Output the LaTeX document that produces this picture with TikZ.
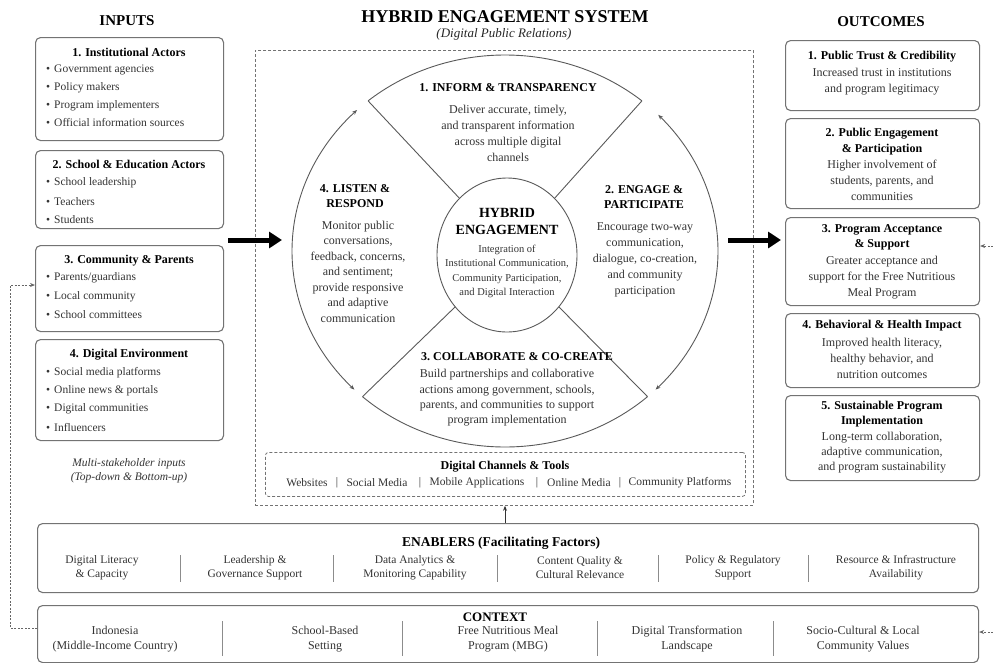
\documentclass[tikz,border=0pt]{standalone}
\usepackage{fontspec}
\setmainfont{Liberation Serif}
\usetikzlibrary{arrows.meta,shapes.geometric}
\begin{document}
\begin{tikzpicture}[x=1pt,y=-1pt,
 box/.style={draw=black!55, line width=1.1pt, rounded corners=5pt, anchor=north west, inner sep=0pt},
 ttl/.style={font=\fontsize{12}{15}\selectfont\bfseries, text=black, align=center, inner sep=0pt},
 body/.style={font=\fontsize{12}{16}\selectfont, text=black!80, align=center, inner sep=0pt},
 itm/.style={font=\fontsize{11.5}{14}\selectfont, text=black!80, anchor=west, inner sep=0pt},
 head/.style={font=\fontsize{15}{18}\selectfont\bfseries, text=black, inner sep=0pt},
 sepline/.style={draw=black!45, line width=0.8pt},
 ring/.style={draw=black!65, line width=0.9pt},
 fb/.style={draw=black!60, line width=0.9pt, dash pattern=on 2pt off 1.5pt},
 bigarrow/.style={line width=5pt, -{Triangle[length=13pt,width=16pt]}},
 tip/.style={-{Stealth[length=5pt,width=4pt]}},
 dtip/.style={{Stealth[length=5pt,width=4pt]}-{Stealth[length=5pt,width=4pt]}}
]
\useasboundingbox (0,0) rectangle (993,662);

% ---------------- headers ----------------
\node[head] (hin) at (127,21) {INPUTS};
\node[head] (hout) at (881,22) {OUTCOMES};
\node[font=\fontsize{18}{22}\selectfont\bfseries, inner sep=0pt] (hsys) at (505,17) {HYBRID ENGAGEMENT SYSTEM};
\node[font=\fontsize{13}{16}\selectfont\itshape, text=black!85, inner sep=0pt] (hsub) at (504,34) {(Digital Public Relations)};

% ---------------- inputs ----------------
\node[box, minimum width=188pt, minimum height=103pt] (in1) at (35,37) {};
\node[ttl] (in1t) at (129,52) {1. Institutional Actors};
\node[itm] (i11) at (46,70) {\textbullet\hspace{4pt}Government agencies};
\node[itm] (i12) at (46,88) {\textbullet\hspace{4pt}Policy makers};
\node[itm] (i13) at (46,106) {\textbullet\hspace{4pt}Program implementers};
\node[itm] (i14) at (46,123) {\textbullet\hspace{4pt}Official information sources};

\node[box, minimum width=188pt, minimum height=78pt] (in2) at (35,150) {};
\node[ttl] (in2t) at (129,164) {2. School \& Education Actors};
\node[itm] (i21) at (46,183) {\textbullet\hspace{4pt}School leadership};
\node[itm] (i22) at (46,202) {\textbullet\hspace{4pt}Teachers};
\node[itm] (i23) at (46,220) {\textbullet\hspace{4pt}Students};

\node[box, minimum width=188pt, minimum height=86pt] (in3) at (35,245) {};
\node[ttl] (in3t) at (129,261) {3. Community \& Parents};
\node[itm] (i31) at (46,278) {\textbullet\hspace{4pt}Parents/guardians};
\node[itm] (i32) at (46,297) {\textbullet\hspace{4pt}Local community};
\node[itm] (i33) at (46,315) {\textbullet\hspace{4pt}School committees};

\node[box, minimum width=188pt, minimum height=101pt] (in4) at (35,339) {};
\node[ttl] (in4t) at (129,355) {4. Digital Environment};
\node[itm] (i41) at (46,373) {\textbullet\hspace{4pt}Social media platforms};
\node[itm] (i42) at (46,391) {\textbullet\hspace{4pt}Online news \& portals};
\node[itm] (i43) at (46,409) {\textbullet\hspace{4pt}Digital communities};
\node[itm] (i44) at (46,427) {\textbullet\hspace{4pt}Influencers};

\node[font=\fontsize{11.5}{14}\selectfont\itshape, text=black!80, align=center, inner sep=0pt] (note) at (129,471)
  {Multi-stakeholder inputs\\(Top-down \& Bottom-up)};

% ---------------- central system ----------------
\node[draw=black!55, line width=0.8pt, dash pattern=on 3pt off 2pt, anchor=north west,
      minimum width=498pt, minimum height=455pt, inner sep=0pt] (sys) at (255,50) {};

\node[ellipse, draw=black!65, line width=0.9pt, minimum width=140pt, minimum height=154pt, inner sep=0pt] (hub) at (507,255) {};
\node[font=\fontsize{14}{17}\selectfont\bfseries, align=center, inner sep=0pt] (hubt) at (507,221) {HYBRID\\ENGAGEMENT};
\node[font=\fontsize{10.5}{14.3}\selectfont, text=black!80, align=center, inner sep=0pt] (hubb) at (507,271.5)
  {Integration of\\Institutional Communication,\\Community Participation,\\and Digital Interaction};

\coordinate (tl) at ({505+213*cos(230)},{251+196*sin(230)});
\coordinate (tr) at ({505+213*cos(310)},{251+196*sin(310)});
\coordinate (bl) at ({505+213*cos(132)},{251+196*sin(132)});
\coordinate (br) at ({505+213*cos(48)},{251+196*sin(48)});
\draw[ring] plot[domain=230:310, samples=60, smooth, variable=\t] ({505+213*cos(\t)},{251+196*sin(\t)});
\draw[ring] plot[domain=48:132, samples=60, smooth, variable=\t] ({505+213*cos(\t)},{251+196*sin(\t)});
\draw[ring] (tl) -- (hub.130);
\draw[ring] (tr) -- (hub.50);
\draw[ring] (bl) -- (hub.225);
\draw[ring] (br) -- (hub.315);
\draw[ring, dtip] plot[domain=135:226, samples=60, smooth, variable=\t] ({505+213*cos(\t)},{251+196*sin(\t)});
\draw[ring, dtip] plot[domain=-44:45, samples=60, smooth, variable=\t] ({505+213*cos(\t)},{251+196*sin(\t)});

\node[ttl] (s1t) at (508,88) {1. INFORM \& TRANSPARENCY};
\node[body] (s1b) at (508,133) {Deliver accurate, timely,\\and transparent information\\across multiple digital\\channels};

\node[ttl] (s2t) at (644,197) {2. ENGAGE \&\\PARTICIPATE};
\node[body] (s2b) at (645,260) {Encourage two-way\\communication,\\dialogue, co-creation,\\and community\\participation};

\node[ttl] (s3t) at (517,357) {3.\ COLLABORATE \& CO-CREATE};
\node[body, font=\fontsize{12}{15.3}\selectfont] (s3b) at (507,398) {Build partnerships and collaborative\\actions among government, schools,\\parents, and communities to support\\program implementation};

\node[ttl] (s4t) at (355,196) {4. LISTEN \&\\RESPOND};
\node[body, font=\fontsize{12}{15.5}\selectfont] (s4b) at (358,271.5) {Monitor public\\conversations,\\feedback, concerns,\\and sentiment;\\provide responsive\\and adaptive\\communication};

% channels
\node[draw=black!55, line width=0.8pt, dash pattern=on 3pt off 2pt, rounded corners=3pt, anchor=north west,
      minimum width=480pt, minimum height=44pt, inner sep=0pt] (chan) at (265,452) {};
\node[ttl] (chant) at (505,467) {Digital Channels \& Tools};
\node[itm, anchor=center] (c1) at (307,483) {Websites};
\node[itm, anchor=center] (c1s) at (337,483) {|};
\node[itm, anchor=center] (c2) at (377,483) {Social Media};
\node[itm, anchor=center] (c2s) at (420,483) {|};
\node[itm, anchor=center] (c3) at (477,483) {Mobile Applications};
\node[itm, anchor=center] (c3s) at (537,483) {|};
\node[itm, anchor=center] (c4) at (579,483) {Online Media};
\node[itm, anchor=center] (c4s) at (620,483) {|};
\node[itm, anchor=center] (c5) at (680,483) {Community Platforms};

% ---------------- outcomes ----------------
\node[box, minimum width=194pt, minimum height=70pt] (o1) at (785,40) {};
\node[ttl] (o1t) at (882,57) {1. Public Trust \& Credibility};
\node[body] (o1b) at (882,82) {Increased trust in institutions\\and program legitimacy};

\node[box, minimum width=194pt, minimum height=90pt] (o2) at (785,118) {};
\node[ttl, font=\fontsize{12}{16}\selectfont\bfseries] (o2t) at (882,142) {2. Public Engagement\\\& Participation};
\node[body] (o2b) at (882,180) {Higher involvement of\\students, parents, and\\communities};

\node[box, minimum width=194pt, minimum height=88pt] (o3) at (785,217) {};
\node[ttl, font=\fontsize{12}{15.5}\selectfont\bfseries] (o3t) at (882,237.5) {3. Program Acceptance\\\& Support};
\node[body] (o3b) at (882,277.5) {Greater acceptance and\\support for the Free Nutritious\\Meal Program};

\node[box, minimum width=194pt, minimum height=74pt] (o4) at (785,313) {};
\node[ttl] (o4t) at (882,326) {4. Behavioral \& Health Impact};
\node[body] (o4b) at (882,358.5) {Improved health literacy,\\healthy behavior, and\\nutrition outcomes};

\node[box, minimum width=194pt, minimum height=85pt] (o5) at (785,395) {};
\node[ttl] (o5t) at (882,414.5) {5. Sustainable Program\\Implementation};
\node[body, font=\fontsize{12}{15}\selectfont] (o5b) at (882,453) {Long-term collaboration,\\adaptive communication,\\and program sustainability};

% ---------------- enablers ----------------
\node[box, minimum width=941pt, minimum height=69pt] (en) at (37,523) {};
\node[font=\fontsize{13.5}{16}\selectfont\bfseries, inner sep=0pt] (ent) at (501,543) {ENABLERS (Facilitating Factors)};
\node[body, font=\fontsize{11.5}{14}\selectfont] (e1) at (102,568) {Digital Literacy\\\& Capacity};
\node[body, font=\fontsize{11.5}{14}\selectfont] (e2) at (255,568) {Leadership \&\\Governance Support};
\node[body, font=\fontsize{11.5}{14}\selectfont] (e3) at (415,568) {Data Analytics \&\\Monitoring Capability};
\node[body, font=\fontsize{11.5}{14}\selectfont] (e4) at (580,568) {Content Quality \&\\Cultural Relevance};
\node[body, font=\fontsize{11.5}{14}\selectfont] (e5) at (733,568) {Policy \& Regulatory\\Support};
\node[body, font=\fontsize{11.5}{14}\selectfont] (e6) at (896,568) {Resource \& Infrastructure\\Availability};
\foreach \x in {180,333,497,658,808} \draw[sepline] (\x,555) -- (\x,582);

% ---------------- context ----------------
\node[box, minimum width=941pt, minimum height=57pt] (ctx) at (37,605) {};
\node[font=\fontsize{13}{16}\selectfont\bfseries, inner sep=0pt] (ctxt) at (495,617) {CONTEXT};
\node[body, font=\fontsize{12}{15}\selectfont] (k1) at (115,639.5) {Indonesia\\(Middle-Income Country)};
\node[body, font=\fontsize{12}{15}\selectfont] (k2) at (325,639.5) {School-Based\\Setting};
\node[body, font=\fontsize{12}{15}\selectfont] (k3) at (508,639.5) {Free Nutritious Meal\\Program (MBG)};
\node[body, font=\fontsize{12}{15}\selectfont] (k4) at (687,639.5) {Digital Transformation\\Landscape};
\node[body, font=\fontsize{12}{15}\selectfont] (k5) at (863,639.5) {Socio-Cultural \& Local\\Community Values};
\foreach \x in {222,402,597,773} \draw[sepline] (\x,621) -- (\x,656);

% ---------------- connectors ----------------
\coordinate (la) at (228,240);
\coordinate (ra) at (728,240);
\draw[bigarrow] (la) -- ++(54,0);
\draw[bigarrow] (ra) -- ([xshift=-4pt]ra -| o3.west);
\draw[tip, black!80, line width=0.8pt] (en.north -| 505,0) -- (sys.south -| 505,0);

\coordinate (fbIn) at (35,285);
\draw[fb, tip] (ctx.west |- 0,628) -- (10,628) |- (fbIn);

\coordinate (rA) at (993,246);
\coordinate (rB) at (993,632);
\draw[fb, tip] (rA) -- (rA -| o3.east);
\draw[fb, tip] (rB) -- (rB -| ctx.east);
\end{tikzpicture}
\end{document}
